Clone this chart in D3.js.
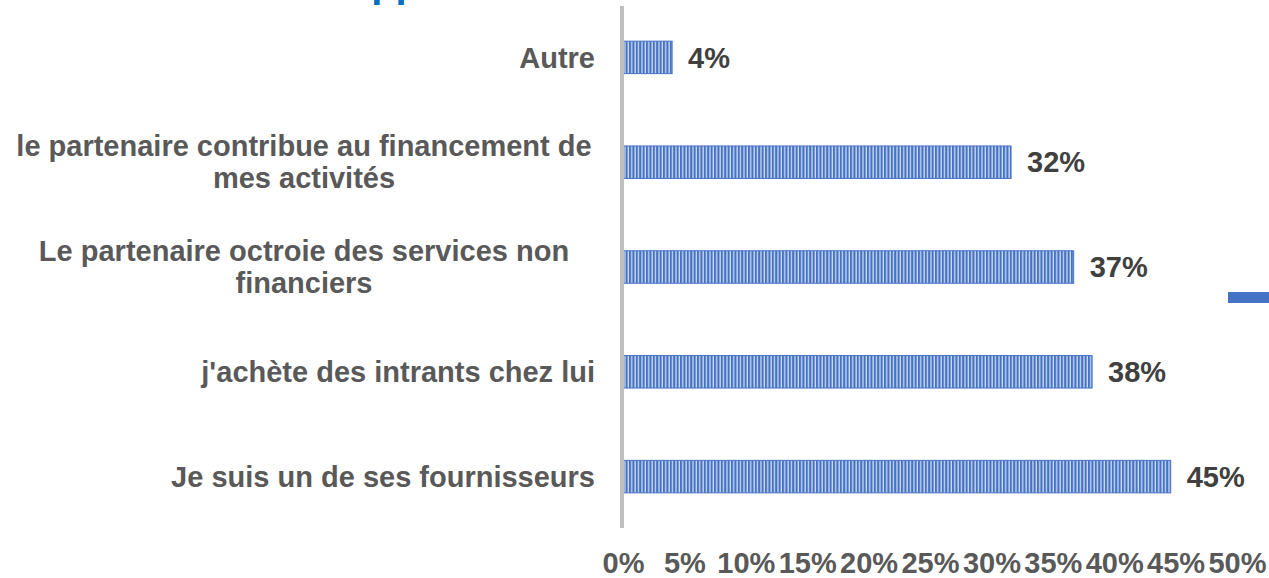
<!DOCTYPE html>
<html>
<head>
<meta charset="utf-8">
<script src="https://cdn.jsdelivr.net/npm/d3@7"></script>
<style>
  body { margin: 0; background: #fff; overflow: hidden; }
  svg text { font-family: "Liberation Sans", Arial, sans-serif; font-weight: bold; }
</style>
</head>
<body>
<div id="chart"></div>
<script>
// data (top to bottom)
var categories = [
  "Autre",
  "le partenaire contribue au financement de|mes activités",
  "Le partenaire octroie des services non|financiers",
  "j'achète des intrants chez lui",
  "Je suis un de ses fournisseurs"
];
var values = [4.0, 31.6, 36.7, 38.2, 44.6];
var valueLabels = ["4%", "32%", "37%", "38%", "45%"];
var ticks = [0, 5, 10, 15, 20, 25, 30, 35, 40, 45, 50];

var width = 1269, height = 578;

var svg = d3.select("#chart")
  .append("svg")
    .attr("width", width)
    .attr("height", height);

// striped fill like the office pattern
var defs = svg.append("defs");
var pat = defs.append("pattern")
    .attr("id", "stripes")
    .attr("patternUnits", "userSpaceOnUse")
    .attr("width", 3.4)
    .attr("height", 10);
pat.append("rect").attr("width", 3.4).attr("height", 10).attr("fill", "#4472C4");
pat.append("rect").attr("x", 2.1).attr("width", 1.3).attr("height", 10).attr("fill", "#D0DCF2");

// title, mostly cut off at the top
svg.append("text")
  .attr("x", 320)
  .attr("y", -3)
  .attr("font-size", "40px")
  .attr("fill", "#0070C0")
  .text("Rapports");

var x = d3.scaleLinear()
  .domain([0, 50])
  .range([623, 1237]);

var y = d3.scaleBand()
  .domain(categories)
  .range([5, 529])
  .paddingInner(0.69)
  .paddingOuter(0.345);

// bars
svg.selectAll("rect.bar")
  .data(values)
  .enter()
  .append("rect")
    .attr("class", "bar")
    .attr("x", x(0))
    .attr("y", function(d, i) { return y(categories[i]); })
    .attr("width", function(d) { return x(d) - x(0); })
    .attr("height", y.bandwidth())
    .attr("fill", "url(#stripes)")
    .attr("stroke", "#4472C4")
    .attr("stroke-width", 1);

// value labels
svg.selectAll("text.val")
  .data(values)
  .enter()
  .append("text")
    .attr("class", "val")
    .attr("x", function(d) { return x(d) + 16; })
    .attr("y", function(d, i) { return y(categories[i]) + y.bandwidth() / 2; })
    .attr("dy", "0.35em")
    .attr("font-size", "29px")
    .attr("fill", "#404040")
    .text(function(d, i) { return valueLabels[i]; });

// vertical axis line
svg.append("line")
  .attr("x1", 622).attr("x2", 622)
  .attr("y1", 6).attr("y2", 528)
  .attr("stroke", "#BFBFBF")
  .attr("stroke-width", 4);

// category labels
var cat = svg.selectAll("text.cat")
  .data(categories)
  .enter()
  .append("text")
    .attr("class", "cat")
    .attr("text-anchor", "middle")
    .attr("font-size", "29px")
    .attr("fill", "#595959");

cat.each(function(d) {
  var lines = d.split("|");
  var cy = y(d) + y.bandwidth() / 2;
  var t = d3.select(this);
  if (lines.length == 1) {
    t.attr("text-anchor", "end");
    t.append("tspan").attr("x", 595).attr("y", cy).attr("dy", "0.35em").text(lines[0]);
  } else {
    lines.forEach(function(l, j) {
      t.append("tspan")
        .attr("x", 304)
        .attr("y", cy - 16 + j * 32)
        .attr("dy", "0.35em")
        .text(l);
    });
  }
});

// x tick labels
var xAxis = svg.append("g")
  .attr("transform", "translate(0,573)")
  .call(d3.axisBottom(x).tickValues(ticks).tickSize(0).tickFormat(function(d) { return d + "%"; }));
xAxis.select(".domain").remove();
xAxis.selectAll("text")
  .attr("y", 0)
  .attr("dy", 0)
  .attr("font-size", "29px")
  .attr("font-family", null)
  .attr("fill", "#595959");

// legend swatch, cut off at the right edge
svg.append("rect")
  .attr("x", 1228).attr("y", 292)
  .attr("width", 60).attr("height", 11)
  .attr("fill", "#4472C4");
</script>
</body>
</html>
